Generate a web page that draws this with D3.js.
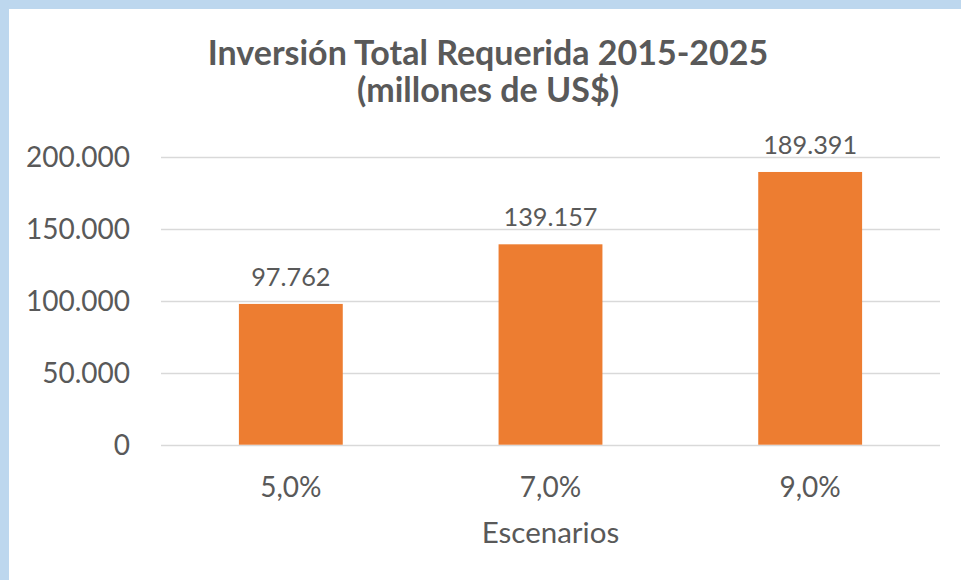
<!DOCTYPE html>
<html>
<head>
<meta charset="utf-8">
<script src="https://cdn.jsdelivr.net/npm/d3@7"></script>
<style>
  html, body { margin: 0; padding: 0; background: #BDD7EE; }
  svg { display: block; }
  text { font-family: Lato, "Open Sans", sans-serif; fill: #595959; }
</style>
</head>
<body>
<script>
const categories = ["5,0%", "7,0%", "9,0%"];
const values = [97762, 139157, 189391];
const yTicks = [0, 50000, 100000, 150000, 200000];
const titleLines = ["Inversión Total Requerida 2015-2025", "(millones de US$)"];
const xTitle = "Escenarios";

const width = 961, height = 580;
const margin = { top: 156.7, right: 21, bottom: 135.3, left: 161 };

const svg = d3.select("body").append("svg")
  .attr("width", width)
  .attr("height", height);

// white chart area inside the blue frame
svg.append("rect")
  .attr("x", 9).attr("y", 9)
  .attr("width", width - 9).attr("height", height - 9)
  .attr("fill", "white");

const x = d3.scaleBand()
  .domain(categories)
  .range([margin.left, width - margin.right])
  .paddingInner(0.6)
  .paddingOuter(0.3);

const y = d3.scaleLinear()
  .domain([0, 200000])
  .range([height - margin.bottom, margin.top]);

const fmt = d3.formatLocale({ decimal: ",", thousands: ".", grouping: [3], currency: ["", ""] }).format(",d");

// gridlines
svg.append("g")
  .selectAll("line")
  .data(yTicks)
  .join("line")
  .attr("x1", margin.left)
  .attr("x2", width - margin.right)
  .attr("y1", d => Math.round(y(d)) + 0.5)
  .attr("y2", d => Math.round(y(d)) + 0.5)
  .attr("stroke", "#D9D9D9")
  .attr("stroke-width", 1.3);

// y axis labels
svg.append("g")
  .selectAll("text")
  .data(yTicks)
  .join("text")
  .attr("x", 130)
  .attr("y", d => y(d))
  .attr("dy", "0.36em")
  .attr("text-anchor", "end")
  .attr("font-size", 28)
  .text(d => fmt(d));

// bars
svg.append("g")
  .selectAll("rect")
  .data(values)
  .join("rect")
  .attr("x", (d, i) => x(categories[i]))
  .attr("y", d => y(d))
  .attr("width", x.bandwidth())
  .attr("height", d => y(0) - y(d))
  .attr("fill", "#ED7D31");

// value labels
svg.append("g")
  .selectAll("text")
  .data(values)
  .join("text")
  .attr("x", (d, i) => x(categories[i]) + x.bandwidth() / 2)
  .attr("y", d => y(d) - 18)
  .attr("text-anchor", "middle")
  .attr("font-size", 25.3)
  .text(d => fmt(d));

// category labels
svg.append("g")
  .selectAll("text")
  .data(categories)
  .join("text")
  .attr("x", d => x(d) + x.bandwidth() / 2)
  .attr("y", 497)
  .attr("text-anchor", "middle")
  .attr("font-size", 28)
  .text(d => d);

// axis title
svg.append("text")
  .attr("x", (margin.left + width - margin.right) / 2)
  .attr("y", 543)
  .attr("text-anchor", "middle")
  .attr("font-size", 29.5)
  .text(xTitle);

// chart title
svg.append("g")
  .selectAll("text")
  .data(titleLines)
  .join("text")
  .attr("x", 488)
  .attr("y", (d, i) => 65 + i * 37)
  .attr("text-anchor", "middle")
  .attr("font-size", 34)
  .attr("font-weight", "bold")
  .text(d => d);
</script>
</body>
</html>
